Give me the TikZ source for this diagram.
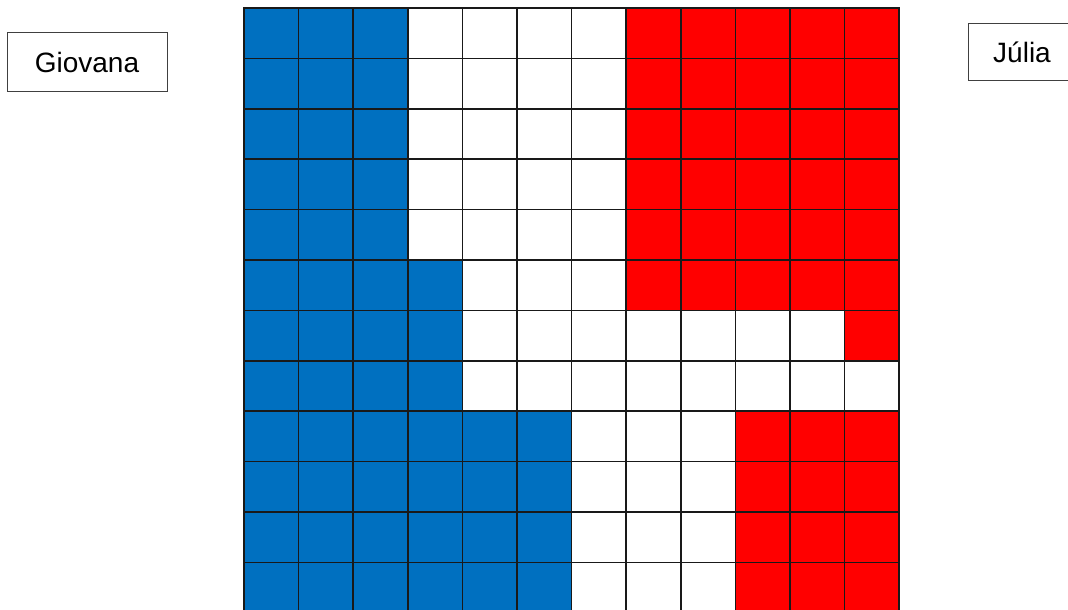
\documentclass[tikz,border=0pt]{standalone}
\usepackage{fontspec}
\setmainfont{Liberation Sans}
\definecolor{cblue}{HTML}{0070C0}
\definecolor{cred}{HTML}{FF0000}
\tikzset{
  cell/.style={draw=black!90, line width=1.5pt},
  namebox/.style={draw=black!75, line width=1pt, font=\fontsize{28}{32}\selectfont, inner sep=0pt, minimum height=58pt}
}
\begin{document}
\begin{tikzpicture}[x=1pt,y=-1pt]
\useasboundingbox (0,0) rectangle (1068,610);
\fill[white] (0,0) rectangle (1068,610);
\foreach \r/\b/\s in {0/3/7,1/3/7,2/3/7,3/3/7,4/3/7,5/4/7,6/4/11,7/4/12,8/6/9,9/6/9,10/6/9,11/6/9}{
  \foreach \c in {0,...,11}{
    \ifnum\c<\b\relax\def\col{cblue}\else\ifnum\c<\s\relax\def\col{white}\else\def\col{cred}\fi\fi
    \draw[cell, fill=\col] ({244+\c*54.6},{8+\r*50.4}) rectangle ++(54.6,50.4);
  }
}
\node[namebox, minimum width=160pt] (giovana) at (87,62) {Giovana};
\node[namebox, minimum width=108pt, minimum height=56pt] (julia) at (1022,52) {Júlia};
\end{tikzpicture}
\end{document}
